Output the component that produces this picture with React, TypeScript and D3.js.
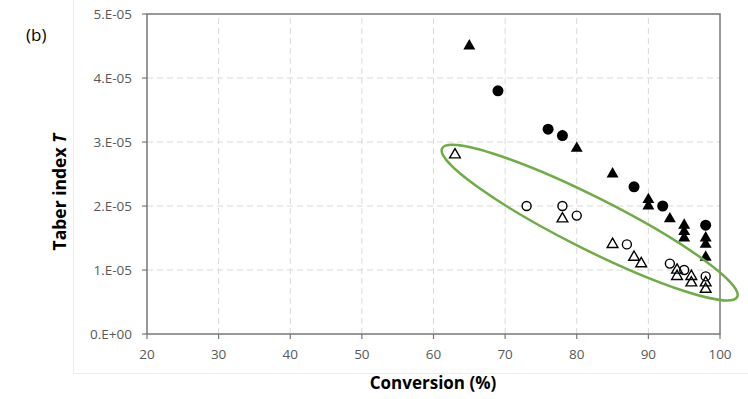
import React from "react";
import * as d3 from "d3";

// conversion (%) and Taber index values
const filledCircleX = [69, 76, 78, 88, 92, 98];
const filledCircleY = [3.8e-5, 3.2e-5, 3.1e-5, 2.3e-5, 2.0e-5, 1.7e-5];

const filledTriangleX = [65, 80, 85, 90, 90, 93, 95, 95, 95, 98, 98, 98];
const filledTriangleY = [
  4.5e-5, 2.9e-5, 2.5e-5, 2.1e-5, 2.0e-5, 1.8e-5, 1.7e-5, 1.6e-5, 1.5e-5, 1.5e-5, 1.4e-5, 1.2e-5,
];

const openCircleX = [73, 78, 80, 87, 93, 95, 98];
const openCircleY = [2.0e-5, 2.0e-5, 1.85e-5, 1.4e-5, 1.1e-5, 1.0e-5, 0.9e-5];

const openTriangleX = [63, 78, 85, 88, 89, 94, 94, 96, 96, 98, 98];
const openTriangleY = [
  2.8e-5, 1.8e-5, 1.4e-5, 1.2e-5, 1.1e-5, 1.0e-5, 0.9e-5, 0.9e-5, 0.8e-5, 0.8e-5, 0.7e-5,
];

const xTicks = [20, 30, 40, 50, 60, 70, 80, 90, 100];
const yTicks = [0, 1e-5, 2e-5, 3e-5, 4e-5, 5e-5];
const yTickLabels = ["0.E+00", "1.E-05", "2.E-05", "3.E-05", "4.E-05", "5.E-05"];

// highlighted group: ellipse tips in data units
const ellipseTips = [
  [61.2, 2.9e-5],
  [102.4, 0.58e-5],
];

export default function App() {
  const width = 748;
  const height = 399;
  const x = d3.scaleLinear().domain([20, 100]).range([147, 720]);
  const y = d3.scaleLinear().domain([0, 5e-5]).range([334, 14]);

  const tri = d3.symbol(d3.symbolTriangle, 62)();
  const triOpen = d3.symbol(d3.symbolTriangle, 50)();

  const [p0, p1] = ellipseTips.map(([a, b]) => [x(a), y(b)]);
  const cx = (p0[0] + p1[0]) / 2;
  const cy = (p0[1] + p1[1]) / 2;
  const rx = Math.hypot(p1[0] - p0[0], p1[1] - p0[1]) / 2;
  const angle = (Math.atan2(p1[1] - p0[1], p1[0] - p0[0]) * 180) / Math.PI;

  const tickColor = "#595959";
  const axisColor = "#777";
  const font = "'Open Sans', sans-serif";

  return (
    <div style={{ position: "absolute", left: 0, top: 0 }}>
      <svg width={width} height={height} style={{ display: "block", background: "#fff" }}>
        <path d="M73.5,0 V373.5 H748" fill="none" stroke="#ececec" strokeWidth={1} />
        {/* grid */}
        {xTicks.slice(1, -1).map((t) => (
          <line
            key={"gx" + t}
            x1={x(t)}
            x2={x(t)}
            y1={y(0)}
            y2={y(5e-5)}
            stroke="#d9d9d9"
            strokeDasharray="6,4"
          />
        ))}
        {yTicks.slice(1, -1).map((t) => (
          <line
            key={"gy" + t}
            x1={x(20)}
            x2={x(100)}
            y1={y(t)}
            y2={y(t)}
            stroke="#d9d9d9"
            strokeDasharray="6,4"
          />
        ))}
        {/* frame */}
        <rect
          x={x(20)}
          y={y(5e-5)}
          width={x(100) - x(20)}
          height={y(0) - y(5e-5)}
          fill="none"
          stroke={axisColor}
          strokeWidth={1.5}
        />
        {/* ticks */}
        {yTicks.map((t, i) => (
          <g key={"ty" + t}>
            <line x1={x(20) - 5} x2={x(20)} y1={y(t)} y2={y(t)} stroke={axisColor} strokeWidth={1.2} />
            <text
              x={x(20) - 15}
              y={y(t)}
              dy="0.35em"
              textAnchor="end"
              fontFamily={font}
              fontSize={13.5}
              fill={tickColor}
            >
              {yTickLabels[i]}
            </text>
          </g>
        ))}
        {xTicks.map((t) => (
          <g key={"tx" + t}>
            <line x1={x(t)} x2={x(t)} y1={y(0)} y2={y(0) + 5} stroke={axisColor} strokeWidth={1.2} />
            <text
              x={x(t)}
              y={354}
              dy="0.35em"
              textAnchor="middle"
              fontFamily={font}
              fontSize={13.5}
              fill={tickColor}
            >
              {t}
            </text>
          </g>
        ))}
        {/* markers */}
        {filledCircleX.map((v, i) => (
          <circle key={"fc" + i} cx={x(v)} cy={y(filledCircleY[i])} r={5.5} fill="#000" />
        ))}
        {filledTriangleX.map((v, i) => (
          <path
            key={"ft" + i}
            d={tri}
            transform={`translate(${x(v)},${y(filledTriangleY[i])})`}
            fill="#000"
          />
        ))}
        {openCircleX.map((v, i) => (
          <circle
            key={"oc" + i}
            cx={x(v)}
            cy={y(openCircleY[i])}
            r={4.5}
            fill="none"
            stroke="#000"
            strokeWidth={1.4}
          />
        ))}
        {openTriangleX.map((v, i) => (
          <path
            key={"ot" + i}
            d={triOpen}
            transform={`translate(${x(v)},${y(openTriangleY[i])})`}
            fill="none"
            stroke="#000"
            strokeWidth={1.4}
          />
        ))}
        {/* highlight ellipse */}
        <ellipse
          cx={cx}
          cy={cy}
          rx={rx}
          ry={26}
          transform={`rotate(${angle},${cx},${cy})`}
          fill="none"
          stroke="#6fac46"
          strokeWidth={2.5}
        />
        {/* titles */}
        <text x={26} y={41} fontFamily={font} fontSize={17} fill="#000">
          (b)
        </text>
        <text
          x={433}
          y={383}
          dy="0.35em"
          textAnchor="middle"
          fontFamily={font}
          fontSize={17}
          fontWeight="bold"
          fill="#000"
        >
          Conversion (%)
        </text>
        <text
          transform="translate(60,192) rotate(-90)"
          dy="0.35em"
          textAnchor="middle"
          fontFamily={font}
          fontSize={17.5}
          fontWeight="bold"
          fill="#000"
        >
          Taber index <tspan fontStyle="italic">T</tspan>
        </text>
      </svg>
    </div>
  );
}
